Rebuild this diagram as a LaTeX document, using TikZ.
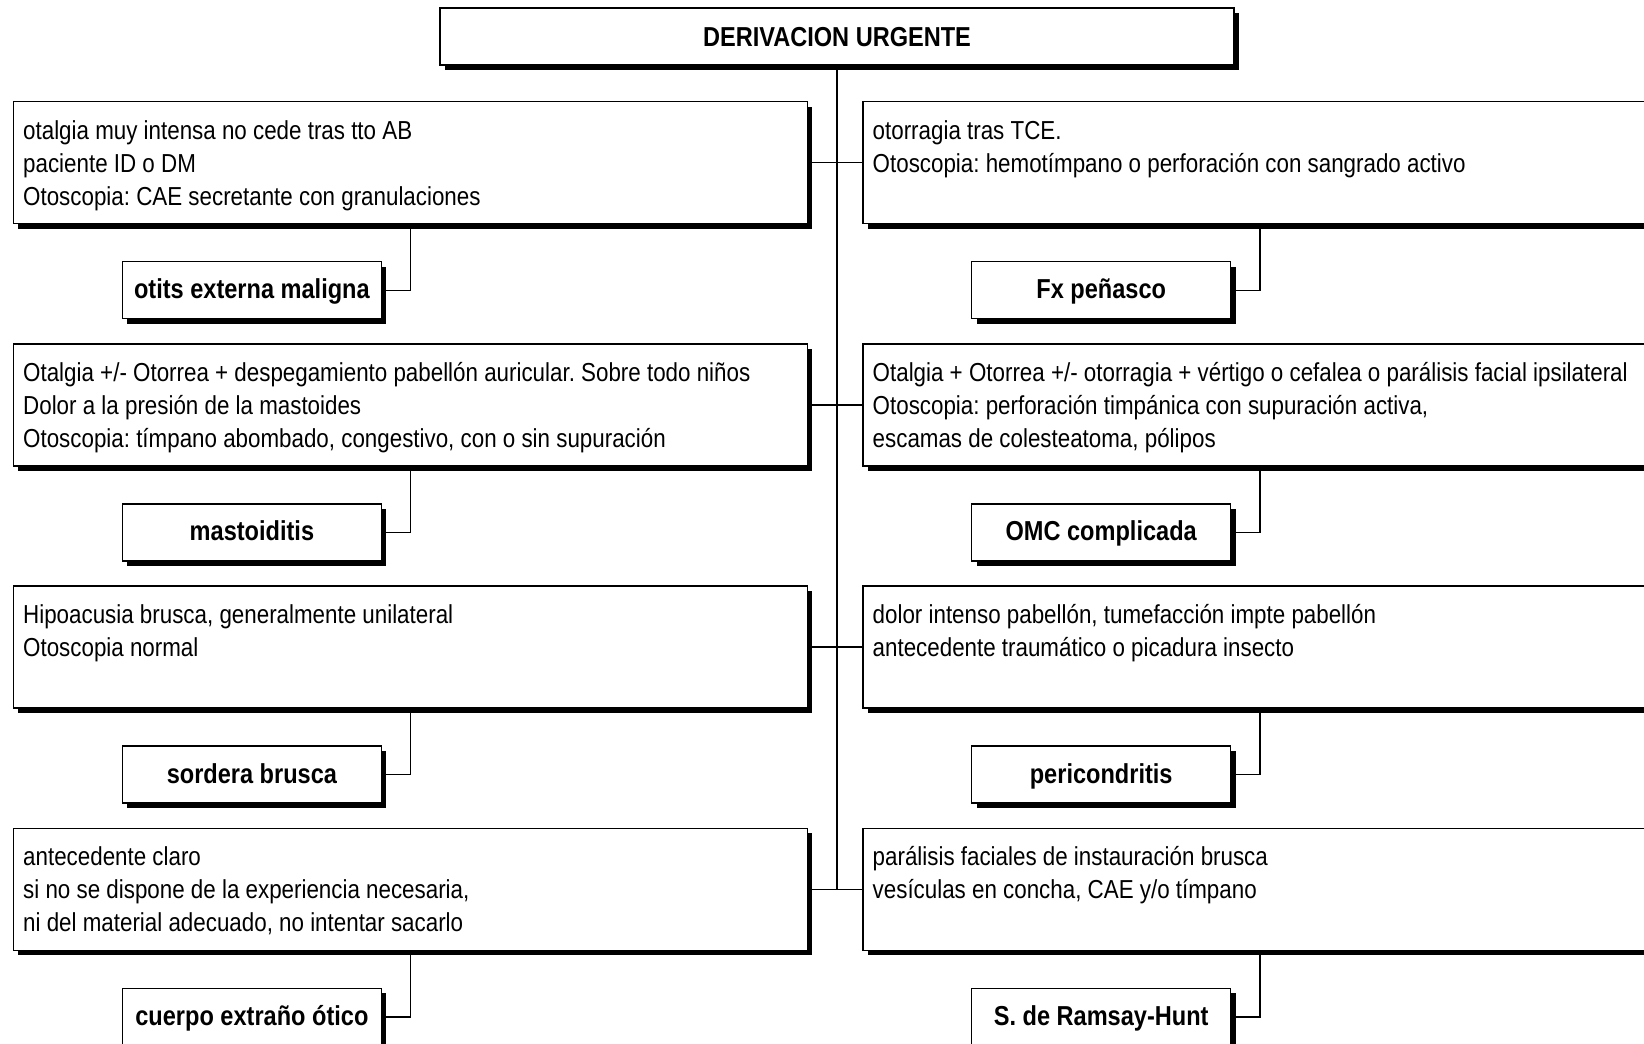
\documentclass[tikz,border=0pt]{standalone}
\usepackage{fontspec}
\setmainfont{Liberation Sans}[FakeStretch=0.86]
\usetikzlibrary{shadows}
\newcommand\txtfont{\fontsize{26}{33}\selectfont\frenchspacing}
\newcommand\bldfont{\fontsize{27.4}{33}\selectfont\bfseries\frenchspacing}
\begin{document}
\begin{tikzpicture}[x=1pt,y=-1pt,
  shad/.style={drop shadow={shadow xshift=5pt,shadow yshift=-5pt,fill=black,opacity=1}},
  bigbox/.style={draw,line width=1.4pt,fill=white,rectangle,inner sep=0pt,anchor=north west,
    minimum width=794pt,minimum height=122pt,shad},
  resbox/.style={draw,line width=1.4pt,fill=white,rectangle,inner sep=0pt,anchor=north west,
    minimum width=259pt,minimum height=57pt,font=\bldfont,text height=22pt,text depth=5pt,shad},
  topbox/.style={draw,line width=1.4pt,fill=white,rectangle,inner sep=0pt,anchor=north west,
    minimum width=794pt,minimum height=57pt,font=\bldfont,text height=24pt,text depth=3.6pt,shad},
  ln/.style={anchor=base west,inner sep=0pt,font=\txtfont},
  conn/.style={line width=1.4pt}]
\clip (0,0) rectangle (1644,1044);
\fill[white] (0,0) rectangle (1644,1044);

% top
\node[topbox] (top) at (439.3,7.3) {DERIVACION URGENTE};

% big boxes
\node[bigbox] (L1) at (12.7,101) {};
\node[bigbox] (R1) at (862.3,101) {};
\node[bigbox] (L2) at (12.7,343.2) {};
\node[bigbox] (R2) at (862.3,343.2) {};
\node[bigbox] (L3) at (12.7,585.4) {};
\node[bigbox] (R3) at (862.3,585.4) {};
\node[bigbox] (L4) at (12.7,827.6) {};
\node[bigbox] (R4) at (862.3,827.6) {};

% result boxes
\node[resbox] (A1) at (121.7,261) {otits externa maligna};
\node[resbox] (B1) at (971,261) {Fx peñasco};
\node[resbox] (A2) at (121.7,503.2) {mastoiditis};
\node[resbox] (B2) at (971,503.2) {OMC complicada};
\node[resbox] (A3) at (121.7,745.4) {sordera brusca};
\node[resbox] (B3) at (971,745.4) {pericondritis};
\node[resbox] (A4) at (121.7,987.6) {cuerpo extraño ótico};
\node[resbox] (B4) at (971,987.6) {S. de Ramsay-Hunt};

% texts
\node[ln] (l1a) at (23,139) {otalgia muy intensa no cede tras tto AB};
\node[ln] (l1b) at (23,172) {paciente ID o DM};
\node[ln] (l1c) at (23,205) {Otoscopia: CAE secretante con granulaciones};
\node[ln] (r1a) at (872.5,139) {otorragia tras TCE.};
\node[ln] (r1b) at (872.5,172) {Otoscopia: hemotímpano o perforación con sangrado activo};

\node[ln] (l2a) at (23,381.2) {Otalgia +/- Otorrea + despegamiento pabellón auricular. Sobre todo niños};
\node[ln] (l2b) at (23,414.2) {Dolor a la presión de la mastoides};
\node[ln] (l2c) at (23,447.2) {Otoscopia: tímpano abombado, congestivo, con o sin supuración};
\node[ln] (r2a) at (872.5,381.2) {Otalgia + Otorrea +/- otorragia + vértigo o cefalea o parálisis facial ipsilateral};
\node[ln] (r2b) at (872.5,414.2) {Otoscopia: perforación timpánica con supuración activa,};
\node[ln] (r2c) at (872.5,447.2) {escamas de colesteatoma, pólipos};

\node[ln] (l3a) at (23,623.4) {Hipoacusia brusca, generalmente unilateral};
\node[ln] (l3b) at (23,656.4) {Otoscopia normal};
\node[ln] (r3a) at (872.5,623.4) {dolor intenso pabellón, tumefacción impte pabellón};
\node[ln] (r3b) at (872.5,656.4) {antecedente traumático o picadura insecto};

\node[ln] (l4a) at (23,865.6) {antecedente claro};
\node[ln] (l4b) at (23,898.6) {si no se dispone de la experiencia necesaria,};
\node[ln] (l4c) at (23,931.6) {ni del material adecuado, no intentar sacarlo};
\node[ln] (r4a) at (872.5,865.6) {parálisis faciales de instauración brusca};
\node[ln] (r4b) at (872.5,898.6) {vesículas en concha, CAE y/o tímpano};

% connectors
\coordinate (tend) at (top.south |- L4.east);
\draw[conn] (top.south) -- (tend);
\draw[conn] (L1.east) -- (R1.west);
\draw[conn] (L2.east) -- (R2.west);
\draw[conn] (L3.east) -- (R3.west);
\draw[conn] (L4.east) -- (R4.west);
\draw[conn] (L1.south) |- (A1.east);
\draw[conn] (R1.south) |- (B1.east);
\draw[conn] (L2.south) |- (A2.east);
\draw[conn] (R2.south) |- (B2.east);
\draw[conn] (L3.south) |- (A3.east);
\draw[conn] (R3.south) |- (B3.east);
\draw[conn] (L4.south) |- (A4.east);
\draw[conn] (R4.south) |- (B4.east);
\end{tikzpicture}
\end{document}
